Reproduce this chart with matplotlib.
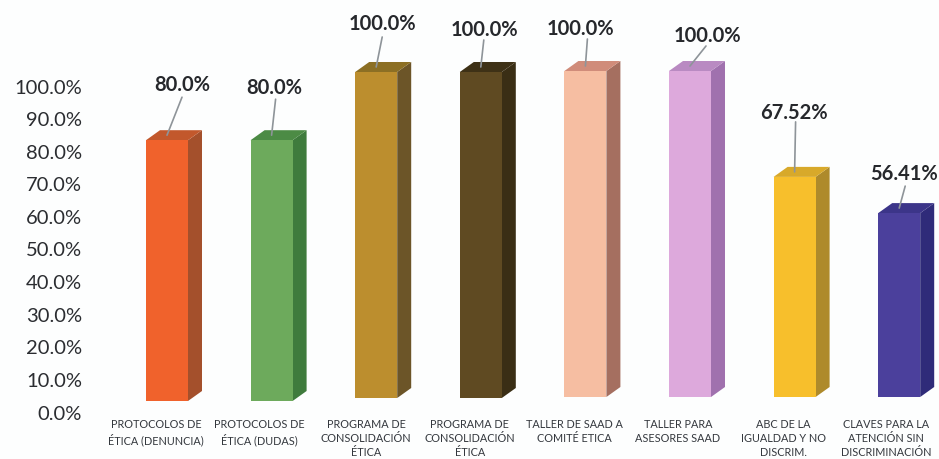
import numpy as np
import matplotlib
matplotlib.use('Agg')
import matplotlib.pyplot as plt
from matplotlib.patches import Polygon

plt.rcParams['font.family'] = ['Lato', 'DejaVu Sans']

categories = ['PROTOCOLOS DE\nÉTICA (DENUNCIA)', 'PROTOCOLOS DE\nÉTICA (DUDAS)',
              'PROGRAMA DE\nCONSOLIDACIÓN\nÉTICA', 'PROGRAMA DE\nCONSOLIDACIÓN\nÉTICA',
              'TALLER DE SAAD A\nCOMITÉ ETICA', 'TALLER PARA\nASESORES SAAD',
              'ABC DE LA\nIGUALDAD Y NO\nDISCRIM.', 'CLAVES PARA LA\nATENCIÓN SIN\nDISCRIMINACIÓN']
values = [80.0, 80.0, 100.0, 100.0, 100.0, 100.0, 67.52, 56.41]
value_labels = ['80.0%', '80.0%', '100.0%', '100.0%', '100.0%', '100.0%', '67.52%', '56.41%']
y_ticks = [0, 10, 20, 30, 40, 50, 60, 70, 80, 90, 100]

front_colors = ['#F0622C', '#6DAA5C', '#BC8E2E', '#5F4A22', '#F6BEA2', '#DDA9DC', '#F7BF2C', '#4B409C']
side_colors = ['#A4502C', '#3F7B3D', '#6C5528', '#3A2E15', '#A56F60', '#A071AE', '#AE8A2B', '#2F2B79']
top_colors = ['#C2582C', '#4C8B45', '#8C6F24', '#3E3116', '#D08C7A', '#B98AC2', '#D8A92A', '#3C3589']

# the scan is a bit skewed, later bars sit slightly higher (px)
base_px = [0, 0, 3, 3, 4, 4, 4, 4]

# label offsets from top of bar front, in px (x right, y up)
label_dx = [15, 3, 6, 4, -5, 17, -1, 5]
label_dy = [55, 52, 48, 42, 42, 35, 64, 39]
line_dx = [15, 4, 6, 3, 2, 16, 1, 6]
line_dy = [38, 36, 30, 27, 27, 20, 50, 22]
label_shift = [-11, -12, -10, -11, -11, -12, -11, -13]

px = 72 / 100
x_step = 104.6
y_step = 3.26
bar_w = 42 / x_step
dep_x = 14 / x_step
dep_y = 10 / y_step

fig = plt.figure(figsize=(9.39, 4.59), dpi=100, facecolor='#FDFEFE')
ax = fig.add_axes([0, 0, 1, 1])
ax.set_xlim(-167 / x_step, (939 - 167) / x_step)
ax.set_ylim((401 - 459) / y_step, 401 / y_step)
ax.axis('off')

x = np.arange(len(values))
base = np.array(base_px) / y_step
ax.bar(x, values, bottom=base, width=bar_w, color=front_colors, zorder=3)
for i, v in enumerate(values):
    r = i + bar_w / 2
    l = i - bar_w / 2
    b = base[i]
    top = v + b
    ax.add_patch(Polygon([(r, b), (r + dep_x, b + dep_y), (r + dep_x, top + dep_y), (r, top)],
                         closed=True, color=side_colors[i], lw=0, zorder=2))
    ax.add_patch(Polygon([(l, top), (l + dep_x, top + dep_y), (r + dep_x, top + dep_y), (r, top)],
                         closed=True, color=top_colors[i], lw=0, zorder=2))
    ax.annotate('', xy=(i, top + dep_y / 2), xytext=(line_dx[i] * px, line_dy[i] * px),
                textcoords='offset points',
                arrowprops=dict(arrowstyle='-', color='#8E9499', lw=1.2, shrinkA=0, shrinkB=0), zorder=4)
    ax.annotate(value_labels[i], xy=(i, top), xytext=(label_dx[i] * px, label_dy[i] * px),
                textcoords='offset points', ha='center', va='center',
                fontsize=14.5, fontweight='bold', color='#26282C', zorder=5)
    ax.annotate(categories[i], xy=(i, 0), xytext=(label_shift[i] * px, -18 * px),
                textcoords='offset points', ha='center', va='top',
                fontsize=7.8, color='#34383E', linespacing=1.33, annotation_clip=False)

for t in y_ticks:
    ax.annotate(f'{t:.1f}%', xy=(-167 / x_step, t), xytext=(82 * px, -13 * px),
                textcoords='offset points', ha='right', va='center',
                fontsize=14.5, color='#2B2D31')

fig.savefig('out.png', dpi=100, facecolor=fig.get_facecolor())
